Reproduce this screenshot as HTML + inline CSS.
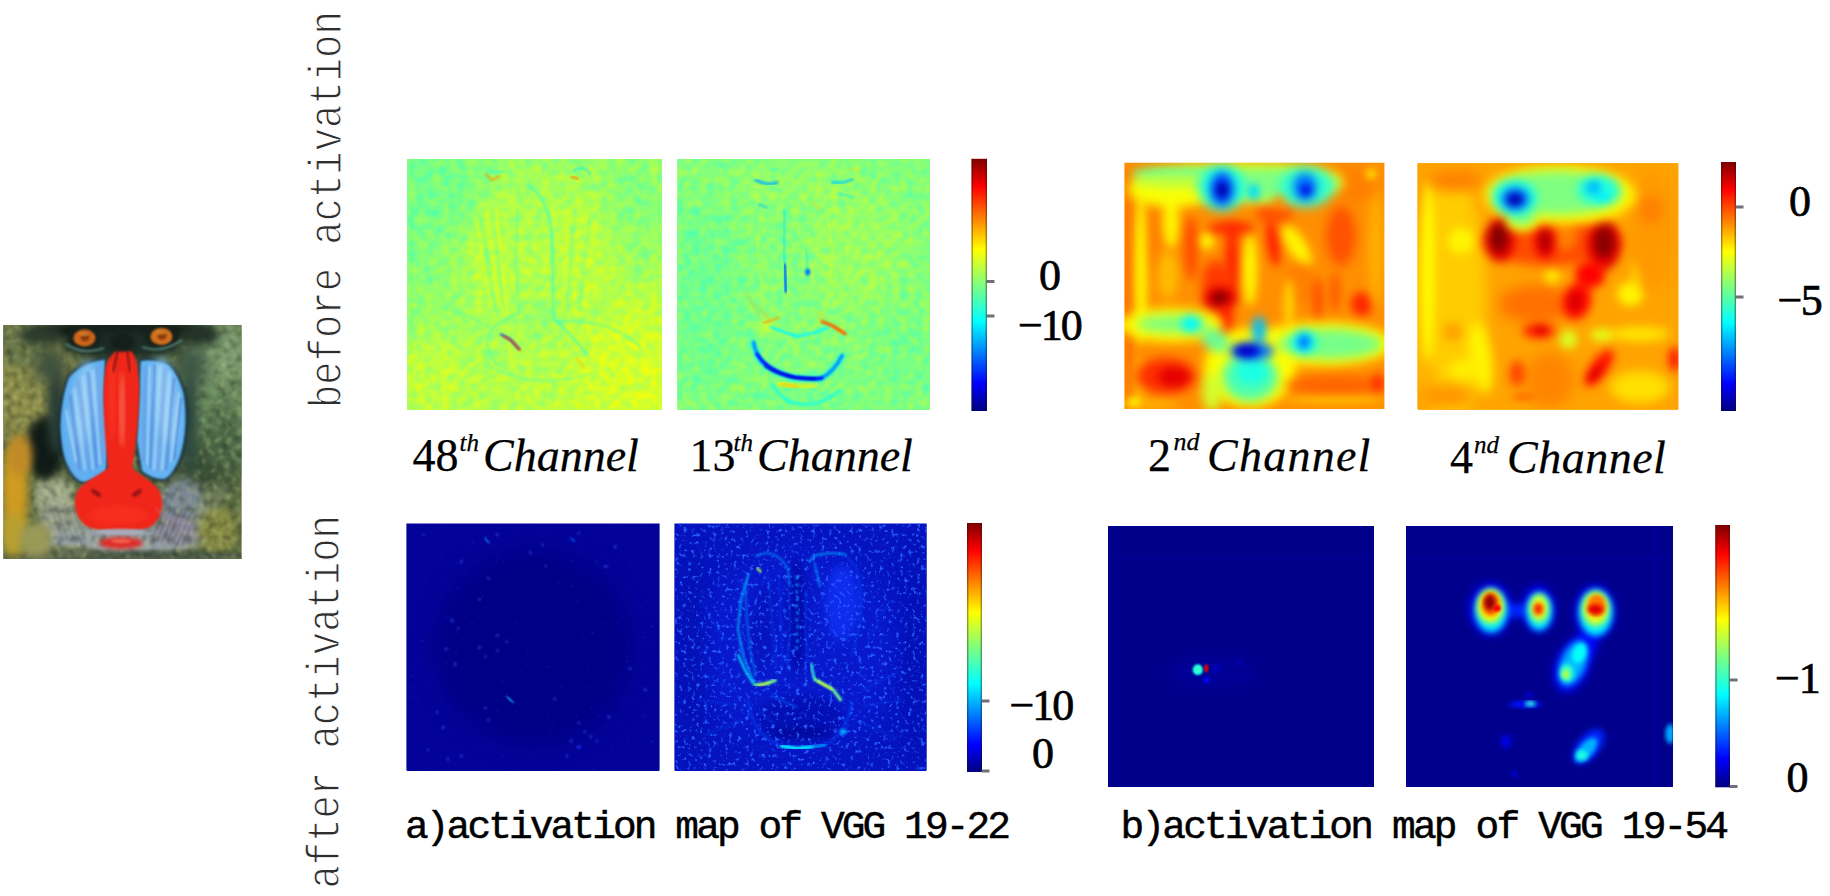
<!DOCTYPE html>
<html lang="en"><head><meta charset="utf-8"><title>Activation maps of VGG 19</title>
<style>
html,body{margin:0;padding:0;background:#fff;}
body{width:1830px;height:896px;overflow:hidden;position:relative;}
svg{position:absolute;left:0;top:0;display:block;}
.ser{font-family:"Liberation Serif",serif;fill:#000;}
.num{stroke:#000;stroke-width:0.7px;}
.chl{stroke:#000;stroke-width:0.25px;}
.it{font-style:italic;}
.mono{font-family:"Liberation Mono",monospace;fill:#2e2e2e;}
.cap{font-family:"Liberation Mono",monospace;fill:#000;}
</style></head><body>
<svg width="1830" height="896" viewBox="0 0 1830 896">
<defs>
<linearGradient id="jet" x1="0" y1="0" x2="0" y2="1">
<stop offset="0" stop-color="#7f0000"/><stop offset="0.11" stop-color="#ff0000"/>
<stop offset="0.36" stop-color="#ffff00"/><stop offset="0.5" stop-color="#7fff7f"/><stop offset="0.645" stop-color="#00ffff"/>
<stop offset="0.89" stop-color="#0000ff"/><stop offset="1" stop-color="#00007f"/>
</linearGradient>

<filter color-interpolation-filters="sRGB" id="gb3" x="-5%" y="-5%" width="110%" height="110%"><feGaussianBlur stdDeviation="3"/></filter>
<filter color-interpolation-filters="sRGB" id="gb2" x="-5%" y="-5%" width="110%" height="110%"><feGaussianBlur stdDeviation="2"/></filter>
<linearGradient id="g1" x1="0" y1="0" x2="1" y2="1"><stop offset="0" stop-color="#61ff9e"/><stop offset="0.45" stop-color="#a3ff5c"/><stop offset="1" stop-color="#e5ff1a"/></linearGradient>
<filter color-interpolation-filters="sRGB" id="tex1" x="0" y="0" width="100%" height="100%"><feTurbulence type="fractalNoise" baseFrequency="0.12" numOctaves="3" seed="4"/><feColorMatrix type="matrix" values="1.5 0 0 0 -0.1  0 0 0 0 1  -1.5 0 0 0 1.1  0 0 0 0 0.42"/><feGaussianBlur stdDeviation="0.8"/></filter>
<filter color-interpolation-filters="sRGB" id="tex2" x="0" y="0" width="100%" height="100%"><feTurbulence type="fractalNoise" baseFrequency="0.13" numOctaves="3" seed="9"/><feColorMatrix type="matrix" values="1.5 0 0 0 -0.18  0 0 0 0 1  -1.5 0 0 0 1.18  0 0 0 0 0.42"/><feGaussianBlur stdDeviation="0.8"/></filter>
<filter color-interpolation-filters="sRGB" id="spk5" x="0" y="0" width="100%" height="100%"><feTurbulence type="fractalNoise" baseFrequency="0.2" numOctaves="3" seed="11"/><feColorMatrix type="matrix" values="0 0 0 0 0.16  0 0 0 0 0.28  0 0 0 0 0.9  5 0 0 0 -3.65"/><feGaussianBlur stdDeviation="0.7"/></filter>
<filter color-interpolation-filters="sRGB" id="spk6" x="0" y="0" width="100%" height="100%"><feTurbulence type="fractalNoise" baseFrequency="0.24" numOctaves="3" seed="3"/><feColorMatrix type="matrix" values="0 0 0 0 0.16  0 0 0 0 0.38  0 0 0 0 1  5 0 0 0 -2.9"/><feGaussianBlur stdDeviation="0.7"/></filter>
<filter color-interpolation-filters="sRGB" id="b6" x="-50%" y="-50%" width="200%" height="200%"><feGaussianBlur stdDeviation="6"/></filter>
<filter color-interpolation-filters="sRGB" id="b3" x="-40%" y="-40%" width="180%" height="180%"><feGaussianBlur stdDeviation="3"/></filter>
<filter color-interpolation-filters="sRGB" id="furL" x="0" y="0" width="100%" height="100%"><feTurbulence type="fractalNoise" baseFrequency="0.16" numOctaves="2" seed="7" result="n"/><feColorMatrix in="n" type="matrix" values="0 0 0 0 0.78  0 0 0 0 0.82  0 0 0 0 0.55  2.6 0 0 0 -1.25"/><feGaussianBlur stdDeviation="0.9"/></filter>
<filter color-interpolation-filters="sRGB" id="furD" x="0" y="0" width="100%" height="100%"><feTurbulence type="fractalNoise" baseFrequency="0.14" numOctaves="2" seed="23" result="n"/><feColorMatrix in="n" type="matrix" values="0 0 0 0 0.08  0 0 0 0 0.12  0 0 0 0 0.08  0 2.6 0 0 -1.2"/><feGaussianBlur stdDeviation="0.9"/></filter>
<filter color-interpolation-filters="sRGB" id="b1" x="-20%" y="-20%" width="140%" height="140%"><feGaussianBlur stdDeviation="1"/></filter>
<filter color-interpolation-filters="sRGB" id="b2" x="-20%" y="-20%" width="140%" height="140%"><feGaussianBlur stdDeviation="2"/></filter>
<filter color-interpolation-filters="sRGB" id="b4" x="-30%" y="-30%" width="160%" height="160%"><feGaussianBlur stdDeviation="4"/></filter>
<filter color-interpolation-filters="sRGB" id="b8" x="-50%" y="-50%" width="200%" height="200%"><feGaussianBlur stdDeviation="8"/></filter>
<filter color-interpolation-filters="sRGB" id="b12" x="-50%" y="-50%" width="200%" height="200%"><feGaussianBlur stdDeviation="12"/></filter>
</defs>
<clipPath id="cpB"><rect x="3.3" y="325" width="238.3" height="234"/></clipPath>
<g clip-path="url(#cpB)">
<rect x="0" y="320" width="246" height="244" fill="#5e6e42"/>
<ellipse cx="30" cy="385" rx="44" ry="62" fill="#8e8e4a" filter="url(#b8)"/>
<ellipse cx="40" cy="352" rx="32" ry="22" fill="#84884a" filter="url(#b8)"/>
<ellipse cx="20" cy="345" rx="25" ry="22" fill="#6c7a4a" filter="url(#b4)"/>
<ellipse cx="217" cy="400" rx="32" ry="85" fill="#64865c" filter="url(#b8)"/>
<ellipse cx="222" cy="355" rx="26" ry="32" fill="#7c9c70" filter="url(#b8)"/>
<ellipse cx="205" cy="470" rx="30" ry="30" fill="#3c5238" filter="url(#b8)"/>
<ellipse cx="225" cy="440" rx="18" ry="30" fill="#4c6a48" filter="url(#b8)"/>
<ellipse cx="54" cy="496" rx="20" ry="20" fill="#a6ae90" filter="url(#b4)"/>
<ellipse cx="62" cy="520" rx="24" ry="18" fill="#9aa090" filter="url(#b4)"/>
<ellipse cx="120" cy="540" rx="80" ry="16" fill="#98a2a8" filter="url(#b4)"/>
<ellipse cx="182" cy="505" rx="24" ry="26" fill="#7c8a98" filter="url(#b4)"/>
<ellipse cx="205" cy="520" rx="14" ry="22" fill="#8a988a" filter="url(#b4)"/>
<ellipse cx="176" cy="530" rx="22" ry="16" fill="#8e8ea0" filter="url(#b4)"/>
<ellipse cx="218" cy="530" rx="20" ry="24" fill="#8a8c44" filter="url(#b4)"/>
<ellipse cx="215" cy="495" rx="14" ry="12" fill="#6c7a58" filter="url(#b4)"/>
<ellipse cx="122" cy="556" rx="125" ry="5" fill="#4a5848" filter="url(#b2)"/>
<ellipse cx="60" cy="552" rx="40" ry="6" fill="#6a7458" filter="url(#b2)"/>
<rect x="3" y="325" width="239" height="234" filter="url(#furL)" opacity="0.5"/>
<rect x="3" y="325" width="239" height="234" filter="url(#furD)" opacity="0.42"/>
<ellipse cx="122" cy="331" rx="90" ry="11" fill="#121c18" filter="url(#b4)"/>
<ellipse cx="122" cy="345" rx="62" ry="14" fill="#1c2c26" filter="url(#b4)"/>
<ellipse cx="45" cy="448" rx="19" ry="32" fill="#101a16" filter="url(#b4)"/>
<ellipse cx="56" cy="410" rx="9" ry="45" fill="#2a3e36" filter="url(#b4)"/>
<ellipse cx="50" cy="365" rx="15" ry="20" fill="#3c4e3e" filter="url(#b8)"/>
<ellipse cx="190" cy="420" rx="8" ry="55" fill="#2e4a40" filter="url(#b4)"/>
<ellipse cx="192" cy="365" rx="15" ry="20" fill="#3c5646" filter="url(#b8)"/>
<ellipse cx="200" cy="335" rx="20" ry="10" fill="#243428" filter="url(#b4)"/>
<ellipse cx="40" cy="335" rx="22" ry="9" fill="#2a3a2c" filter="url(#b4)"/>
<ellipse cx="15" cy="490" rx="13" ry="48" fill="#cf9c20" filter="url(#b4)"/>
<ellipse cx="20" cy="455" rx="12" ry="20" fill="#c08a28" filter="url(#b4)"/>
<ellipse cx="14" cy="535" rx="14" ry="22" fill="#b8a030" filter="url(#b4)"/>
<ellipse cx="36" cy="540" rx="16" ry="18" fill="#9a9a58" filter="url(#b4)"/>
<path d="M105,359.5 C92,361 78,367 69,377.5 C63.5,391 61,409 60.4,427 C61,441 63,456 67,464 C71,473 77,481 83,482 C92,482 100,476 106,471 L108,441 L104.5,400 Z" fill="#0e2638" filter="url(#b2)" stroke="#0e2638" stroke-width="4"/>
<path d="M140.5,361 C147,359.5 158,360 169,365.5 C176,372 181,384 183.5,393 C185.5,405 186,418 185,430 C184,443 181,456 177,464 C172,474 167,479 163,479 C154,479 147,475 142,471 L137,441 L139,400 Z" fill="#0e2638" filter="url(#b2)" stroke="#0e2638" stroke-width="4"/>
<path d="M105,359.5 C92,361 78,367 69,377.5 C63.5,391 61,409 60.4,427 C61,441 63,456 67,464 C71,473 77,481 83,482 C92,482 100,476 106,471 L108,441 L104.5,400 Z" fill="#5eaef0" filter="url(#b1)"/>
<path d="M140.5,361 C147,359.5 158,360 169,365.5 C176,372 181,384 183.5,393 C185.5,405 186,418 185,430 C184,443 181,456 177,464 C172,474 167,479 163,479 C154,479 147,475 142,471 L137,441 L139,400 Z" fill="#62b2f2" filter="url(#b1)"/>
<ellipse cx="84" cy="405" rx="12" ry="45" fill="#8cc8f4" filter="url(#b4)" transform="rotate(6 84 405)" opacity="0.9"/>
<ellipse cx="165" cy="402" rx="12" ry="45" fill="#90ccf6" filter="url(#b4)" transform="rotate(-6 165 402)" opacity="0.9"/>
<ellipse cx="80" cy="455" rx="8" ry="20" fill="#6fb2ee" filter="url(#b4)" opacity="0.7"/>
<ellipse cx="160" cy="455" rx="8" ry="20" fill="#72b6f0" filter="url(#b4)" opacity="0.7"/>
<line x1="70" y1="395" x2="80" y2="470" stroke="#5a6cc8" stroke-width="1.6" filter="url(#b1)" opacity="0.75"/>
<line x1="78" y1="380" x2="90" y2="472" stroke="#7a86d0" stroke-width="1.4" filter="url(#b1)" opacity="0.75"/>
<line x1="88" y1="372" x2="97" y2="468" stroke="#5a70c8" stroke-width="1.6" filter="url(#b1)" opacity="0.75"/>
<line x1="97" y1="366" x2="103" y2="462" stroke="#8a90d4" stroke-width="1.4" filter="url(#b1)" opacity="0.75"/>
<line x1="146" y1="366" x2="143" y2="462" stroke="#7a86d0" stroke-width="1.5" filter="url(#b1)" opacity="0.75"/>
<line x1="155" y1="364" x2="150" y2="468" stroke="#5a70c8" stroke-width="1.6" filter="url(#b1)" opacity="0.75"/>
<line x1="165" y1="368" x2="158" y2="472" stroke="#8a8ad4" stroke-width="1.4" filter="url(#b1)" opacity="0.75"/>
<line x1="174" y1="378" x2="166" y2="470" stroke="#5a6cc8" stroke-width="1.6" filter="url(#b1)" opacity="0.75"/>
<line x1="181" y1="398" x2="174" y2="460" stroke="#5068c0" stroke-width="1.4" filter="url(#b1)" opacity="0.75"/>
<line x1="74" y1="388" x2="85" y2="470" stroke="#c0e2fa" stroke-width="1.8" filter="url(#b1)" opacity="0.75"/>
<line x1="83" y1="376" x2="93" y2="470" stroke="#c0e2fa" stroke-width="1.8" filter="url(#b1)" opacity="0.75"/>
<line x1="93" y1="370" x2="100" y2="465" stroke="#c0e2fa" stroke-width="1.8" filter="url(#b1)" opacity="0.75"/>
<line x1="66" y1="410" x2="76" y2="462" stroke="#c0e2fa" stroke-width="1.8" filter="url(#b1)" opacity="0.75"/>
<line x1="150" y1="366" x2="147" y2="465" stroke="#c0e2fa" stroke-width="1.8" filter="url(#b1)" opacity="0.75"/>
<line x1="160" y1="366" x2="154" y2="470" stroke="#c0e2fa" stroke-width="1.8" filter="url(#b1)" opacity="0.75"/>
<line x1="170" y1="372" x2="162" y2="470" stroke="#c0e2fa" stroke-width="1.8" filter="url(#b1)" opacity="0.75"/>
<line x1="179" y1="392" x2="171" y2="462" stroke="#c0e2fa" stroke-width="1.8" filter="url(#b1)" opacity="0.75"/>
<path d="M116,351 L131,351 C135,356 137.5,362 138,372 C140,385 139.5,400 138,420 C136.5,440 134,455 132.5,468 C140,476 155,482 160,492 C165,504 162,520 150,527 C138,532 100,532 88,527 C76,520 72,504 77,492 C82,482 98,476 108,468 C107,455 105,440 104,420 C103,400 103,385 105,372 C106,362 110,356 116,351 Z" fill="#f0261a" filter="url(#b1)"/>
<ellipse cx="122" cy="410" rx="2.5" ry="38" fill="#ff7a60" filter="url(#b2)" opacity="0.7"/>
<ellipse cx="112" cy="400" rx="3" ry="40" fill="#ff3a24" filter="url(#b2)" opacity="0.6"/>
<ellipse cx="118" cy="515" rx="30" ry="10" fill="#fa3020" filter="url(#b2)" opacity="0.7"/>
<line x1="118" y1="350" x2="113" y2="372" stroke="#5a1410" stroke-width="2" filter="url(#b1)" opacity="0.8"/>
<line x1="127" y1="350" x2="130" y2="372" stroke="#5a1410" stroke-width="2" filter="url(#b1)" opacity="0.7"/>
<ellipse cx="96" cy="493" rx="6" ry="2.6" fill="#8e1212" filter="url(#b1)" transform="rotate(35 96 493)" opacity="0.9"/>
<ellipse cx="137" cy="493" rx="6" ry="2.6" fill="#8e1212" filter="url(#b1)" transform="rotate(-35 137 493)" opacity="0.9"/>
<ellipse cx="120" cy="532" rx="24" ry="3.2" fill="#a8aec0" filter="url(#b1)" opacity="0.9"/>
<ellipse cx="121" cy="543" rx="22" ry="6" fill="#e02c28" filter="url(#b2)"/>
<ellipse cx="121" cy="541" rx="10" ry="2.5" fill="#f26a50" filter="url(#b1)" opacity="0.8"/>
<line x1="166" y1="505.0" x2="152" y2="540" stroke="#3c3c4c" stroke-width="1.6" filter="url(#b1)" opacity="0.4"/>
<line x1="156" y1="508" x2="174" y2="530" stroke="#b49ab0" stroke-width="1.3" filter="url(#b1)" opacity="0.4"/>
<line x1="171" y1="506.5" x2="157" y2="541" stroke="#3c3c4c" stroke-width="1.6" filter="url(#b1)" opacity="0.4"/>
<line x1="161" y1="510" x2="179" y2="532" stroke="#b49ab0" stroke-width="1.3" filter="url(#b1)" opacity="0.4"/>
<line x1="176" y1="508.0" x2="162" y2="542" stroke="#3c3c4c" stroke-width="1.6" filter="url(#b1)" opacity="0.4"/>
<line x1="166" y1="512" x2="184" y2="534" stroke="#b49ab0" stroke-width="1.3" filter="url(#b1)" opacity="0.4"/>
<line x1="181" y1="509.5" x2="167" y2="543" stroke="#3c3c4c" stroke-width="1.6" filter="url(#b1)" opacity="0.4"/>
<line x1="171" y1="514" x2="189" y2="536" stroke="#b49ab0" stroke-width="1.3" filter="url(#b1)" opacity="0.4"/>
<line x1="186" y1="511.0" x2="172" y2="544" stroke="#3c3c4c" stroke-width="1.6" filter="url(#b1)" opacity="0.4"/>
<line x1="176" y1="516" x2="194" y2="538" stroke="#b49ab0" stroke-width="1.3" filter="url(#b1)" opacity="0.4"/>
<line x1="191" y1="512.5" x2="177" y2="545" stroke="#3c3c4c" stroke-width="1.6" filter="url(#b1)" opacity="0.4"/>
<line x1="181" y1="518" x2="199" y2="540" stroke="#b49ab0" stroke-width="1.3" filter="url(#b1)" opacity="0.4"/>
<line x1="196" y1="514.0" x2="182" y2="546" stroke="#3c3c4c" stroke-width="1.6" filter="url(#b1)" opacity="0.4"/>
<line x1="186" y1="520" x2="204" y2="542" stroke="#b49ab0" stroke-width="1.3" filter="url(#b1)" opacity="0.4"/>
<line x1="50" y1="505" x2="62" y2="538" stroke="#56625c" stroke-width="1.5" filter="url(#b1)" opacity="0.35"/>
<line x1="56" y1="507" x2="68" y2="539" stroke="#56625c" stroke-width="1.5" filter="url(#b1)" opacity="0.35"/>
<line x1="62" y1="509" x2="74" y2="540" stroke="#56625c" stroke-width="1.5" filter="url(#b1)" opacity="0.35"/>
<line x1="68" y1="511" x2="80" y2="541" stroke="#56625c" stroke-width="1.5" filter="url(#b1)" opacity="0.35"/>
<line x1="74" y1="513" x2="86" y2="542" stroke="#56625c" stroke-width="1.5" filter="url(#b1)" opacity="0.35"/>
<ellipse cx="84.5" cy="338.5" rx="17" ry="11" fill="#15211c" filter="url(#b2)"/>
<ellipse cx="161.5" cy="337" rx="17" ry="11" fill="#15211c" filter="url(#b2)"/>
<ellipse cx="84.5" cy="338" rx="11" ry="8.5" fill="#cc661a" filter="url(#b1)"/>
<ellipse cx="161.5" cy="336.5" rx="11" ry="8.5" fill="#d06e1c" filter="url(#b1)"/>
<ellipse cx="85" cy="337" rx="4.5" ry="4.5" fill="#8a3c0c" filter="url(#b1)"/>
<ellipse cx="162" cy="335.5" rx="4.5" ry="4.5" fill="#8a3c0c" filter="url(#b1)"/>
<ellipse cx="84" cy="334" rx="5" ry="2" fill="#e8903a" filter="url(#b1)" opacity="0.7"/>
<ellipse cx="161" cy="332.5" rx="5" ry="2" fill="#e8963c" filter="url(#b1)" opacity="0.7"/>
<path d="M66,344 Q84,356 104,348" stroke="#5a8a80" stroke-width="2.2" fill="none" filter="url(#b1)" opacity="0.8"/>
<path d="M142,347 Q162,354 182,340" stroke="#5a8a80" stroke-width="2.2" fill="none" filter="url(#b1)" opacity="0.8"/>
<ellipse cx="122" cy="342" rx="12" ry="9" fill="#141e1a" filter="url(#b2)"/>
</g>

<rect x="407.5" y="159" width="254" height="251" fill="#8eea70"/>
<rect x="677.5" y="159" width="252.3" height="251" fill="#7eea88"/>
<rect x="1418" y="163" width="260" height="247" fill="#ffae20"/>
<rect x="407" y="524" width="252" height="247" fill="#00008c"/>
<rect x="675" y="524" width="251" height="247" fill="#0010b8"/>
<rect x="1108" y="526" width="266" height="261" fill="#00008a"/>
<rect x="1406" y="526" width="267" height="261" fill="#00008a"/>
<clipPath id="cph1"><rect x="407.5" y="159" width="254.1" height="250.8"/></clipPath>
<g clip-path="url(#cph1)">
<rect x="387.5" y="139" width="294.1" height="290.8" fill="#94ff6b"/>
<rect x="405" y="157" width="260" height="256" fill="url(#g1)"/>
<ellipse cx="436.2" cy="195.2" rx="45.2" ry="42.2" fill="#57ffa8" filter="url(#b12)" opacity="0.7"/>
<ellipse cx="635.0" cy="192.2" rx="33.1" ry="36.2" fill="#66ff99" filter="url(#b12)" opacity="0.6"/>
<ellipse cx="629.0" cy="367.0" rx="48.2" ry="54.2" fill="#f0ff0f" filter="url(#b12)" opacity="0.8"/>
<ellipse cx="433.1" cy="379.0" rx="36.2" ry="42.2" fill="#dbff24" filter="url(#b12)" opacity="0.75"/>
<ellipse cx="499.4" cy="255.5" rx="30.1" ry="54.2" fill="#d1ff2e" filter="url(#b8)" transform="rotate(8 499.4 255.5)" opacity="0.7"/>
<ellipse cx="535.6" cy="240.4" rx="69.3" ry="78.3" fill="#c2ff3d" filter="url(#b12)" opacity="0.5"/>
<ellipse cx="580.8" cy="249.4" rx="28.6" ry="51.2" fill="#ccff33" filter="url(#b8)" transform="rotate(-8 580.8 249.4)" opacity="0.65"/>
<ellipse cx="644.1" cy="225.3" rx="21.1" ry="60.3" fill="#66ff99" filter="url(#b12)" opacity="0.6"/>
<ellipse cx="418.1" cy="240.4" rx="18.1" ry="66.3" fill="#66ff99" filter="url(#b12)" opacity="0.5"/>
<ellipse cx="541.6" cy="318.8" rx="18.1" ry="18.1" fill="#6bff94" filter="url(#b8)" opacity="0.5"/>
<rect x="405" y="157" width="260" height="256" filter="url(#tex1)" opacity="0.8"/>
<path d="M476.8,222.3 L490.4,306.7" stroke="#faff05" stroke-width="1.5" fill="none" stroke-linecap="round" stroke-linejoin="round" filter="url(#b1)" opacity="0.55"/>
<path d="M485.9,213.3 L499.4,306.7" stroke="#faff05" stroke-width="1.5" fill="none" stroke-linecap="round" stroke-linejoin="round" filter="url(#b1)" opacity="0.55"/>
<path d="M496.4,207.3 L507.0,312.7" stroke="#faff05" stroke-width="1.5" fill="none" stroke-linecap="round" stroke-linejoin="round" filter="url(#b1)" opacity="0.55"/>
<path d="M568.8,210.3 L562.7,306.7" stroke="#faff05" stroke-width="1.5" fill="none" stroke-linecap="round" stroke-linejoin="round" filter="url(#b1)" opacity="0.55"/>
<path d="M580.8,207.3 L573.3,312.7" stroke="#faff05" stroke-width="1.5" fill="none" stroke-linecap="round" stroke-linejoin="round" filter="url(#b1)" opacity="0.55"/>
<path d="M595.9,219.3 L585.3,306.7" stroke="#faff05" stroke-width="1.5" fill="none" stroke-linecap="round" stroke-linejoin="round" filter="url(#b1)" opacity="0.55"/>
<path d="M481.4,219.3 L494.9,306.7" stroke="#2effd1" stroke-width="1.4" fill="none" stroke-linecap="round" stroke-linejoin="round" filter="url(#b1)" opacity="0.5"/>
<path d="M491.9,210.3 L504.0,309.7" stroke="#2effd1" stroke-width="1.4" fill="none" stroke-linecap="round" stroke-linejoin="round" filter="url(#b1)" opacity="0.5"/>
<path d="M574.8,208.8 L567.2,309.7" stroke="#2effd1" stroke-width="1.4" fill="none" stroke-linecap="round" stroke-linejoin="round" filter="url(#b1)" opacity="0.5"/>
<path d="M589.8,213.3 L579.3,309.7" stroke="#2effd1" stroke-width="1.4" fill="none" stroke-linecap="round" stroke-linejoin="round" filter="url(#b1)" opacity="0.5"/>
<path d="M529.6,186.2 Q550.7,201.2 552.2,240.4 L553.7,318.8 Q568.8,330.8 586.8,354.9" stroke="#1affe5" stroke-width="1.8" fill="none" stroke-linecap="round" filter="url(#b1)" opacity="0.7"/>
<path d="M517.5,210.3 Q514.5,270.5 519.0,312.7 Q502.5,318.8 490.4,330.8 Q481.4,348.9 499.4,367.0" stroke="#2effd1" stroke-width="1.6" fill="none" stroke-linecap="round" filter="url(#b1)" opacity="0.6"/>
<path d="M556.7,321.8 Q592.9,318.8 617.0,330.8 Q638.1,342.9 641.1,348.9" stroke="#2effd1" stroke-width="1.6" fill="none" stroke-linecap="round" filter="url(#b1)" opacity="0.6"/>
<path d="M490.4,367.0 Q538.6,391.1 592.9,373.0" stroke="#38ffc7" stroke-width="1.5" fill="none" stroke-linecap="round" filter="url(#b1)" opacity="0.5"/>
<path d="M439.2,306.7 Q466.3,312.7 490.4,327.8" stroke="#38ffc7" stroke-width="1.4" fill="none" stroke-linecap="round" filter="url(#b1)" opacity="0.45"/>
<path d="M485.9,174.1 L491.9,180.1 L499.4,176.5" stroke="#ff9e00" stroke-width="2.2" fill="none" stroke-linecap="round" stroke-linejoin="round" filter="url(#b1)" opacity="0.8"/>
<path d="M490.4,173.5 L504.0,171.1" stroke="#1affe5" stroke-width="2" fill="none" stroke-linecap="round" stroke-linejoin="round" filter="url(#b1)" opacity="0.7"/>
<path d="M571.8,176.5 L577.8,178.9" stroke="#ff8a00" stroke-width="2.6" fill="none" stroke-linecap="round" stroke-linejoin="round" filter="url(#b1)" opacity="0.85"/>
<path d="M573.3,171.1 Q583.8,163.6 589.8,174.1" stroke="#00f0ff" stroke-width="2" fill="none" stroke-linecap="round" filter="url(#b1)" opacity="0.7"/>
<path d="M500.9,334.4 L510.0,339.2 L519.0,348.9" stroke="#004dff" stroke-width="2.4" fill="none" stroke-linecap="round" stroke-linejoin="round" filter="url(#b1)" opacity="0.8"/>
<path d="M504.0,336.2 L512.1,341.1 L519.9,350.1" stroke="#ff3800" stroke-width="2" fill="none" stroke-linecap="round" stroke-linejoin="round" filter="url(#b1)" opacity="0.85"/>
<path d="M576.3,357.9 L583.8,367.0" stroke="#ff9e00" stroke-width="1.6" fill="none" stroke-linecap="round" stroke-linejoin="round" filter="url(#b1)" opacity="0.5"/>
</g>
<clipPath id="cph2"><rect x="677.5" y="159" width="252.3" height="250.8"/></clipPath>
<g clip-path="url(#cph2)">
<rect x="657.5" y="139" width="292.3" height="290.8" fill="#80ff80"/>
<ellipse cx="703.1" cy="300.7" rx="39.2" ry="99.4" fill="#57ffa8" filter="url(#b12)" opacity="0.7"/>
<ellipse cx="856.8" cy="249.4" rx="51.2" ry="60.3" fill="#b3ff4c" filter="url(#b12)" opacity="0.6"/>
<ellipse cx="796.6" cy="186.2" rx="60.3" ry="18.1" fill="#b8ff47" filter="url(#b8)" opacity="0.45"/>
<ellipse cx="905.0" cy="360.9" rx="33.1" ry="48.2" fill="#61ff9e" filter="url(#b12)" opacity="0.6"/>
<ellipse cx="799.6" cy="400.1" rx="60.3" ry="12.1" fill="#57ffa8" filter="url(#b8)" opacity="0.6"/>
<rect x="675" y="157" width="258" height="256" filter="url(#tex2)" opacity="0.8"/>
<path d="M784.5,210.3 L783.9,249.4 L786.0,291.6" stroke="#00f0ff" stroke-width="2" fill="none" stroke-linecap="round" stroke-linejoin="round" filter="url(#b1)" opacity="0.8"/>
<path d="M784.5,264.5 L786.0,291.6" stroke="#004dff" stroke-width="2.6" fill="none" stroke-linecap="round" stroke-linejoin="round" filter="url(#b1)" opacity="0.9"/>
<path d="M806.2,249.4 L808.0,276.6" stroke="#00f0ff" stroke-width="1.8" fill="none" stroke-linecap="round" stroke-linejoin="round" filter="url(#b1)" opacity="0.6"/>
<ellipse cx="807.7" cy="272.0" rx="2.7" ry="3.6" fill="#0080ff" filter="url(#b1)"/>
<path d="M760.4,210.3 L757.4,249.4 L763.4,306.7" stroke="#faff05" stroke-width="1.4" fill="none" stroke-linecap="round" stroke-linejoin="round" filter="url(#b1)" opacity="0.5"/>
<path d="M826.7,210.3 L832.7,249.4 L826.7,306.7" stroke="#faff05" stroke-width="1.4" fill="none" stroke-linecap="round" stroke-linejoin="round" filter="url(#b1)" opacity="0.5"/>
<path d="M755.9,180.1 Q766.4,186.2 777.0,182.5" stroke="#00b2ff" stroke-width="3" fill="none" stroke-linecap="round" filter="url(#b1)" opacity="0.85"/>
<path d="M832.7,182.5 Q843.3,183.8 852.3,179.5" stroke="#00d1ff" stroke-width="3" fill="none" stroke-linecap="round" filter="url(#b1)" opacity="0.8"/>
<path d="M759.2,204.2 L767.0,207.9" stroke="#00d1ff" stroke-width="2.4" fill="none" stroke-linecap="round" stroke-linejoin="round" filter="url(#b1)" opacity="0.7"/>
<path d="M838.8,193.7 L854.4,197.6" stroke="#00f0ff" stroke-width="2" fill="none" stroke-linecap="round" stroke-linejoin="round" filter="url(#b1)" opacity="0.7"/>
<path d="M769.4,171.1 L778.5,168.7" stroke="#05fffa" stroke-width="1.8" fill="none" stroke-linecap="round" stroke-linejoin="round" filter="url(#b1)" opacity="0.6"/>
<path d="M847.8,168.1 L859.8,171.1" stroke="#ffdb00" stroke-width="1.8" fill="none" stroke-linecap="round" stroke-linejoin="round" filter="url(#b1)" opacity="0.6"/>
<path d="M811.6,201.2 L820.7,210.3" stroke="#ffc700" stroke-width="1.6" fill="none" stroke-linecap="round" stroke-linejoin="round" filter="url(#b1)" opacity="0.5"/>
<ellipse cx="767.0" cy="327.0" rx="9.0" ry="7.2" fill="#e5ff1a" filter="url(#b3)" opacity="0.6"/>
<path d="M763.9,322.8 L771.0,320.5 L778.4,317.7" stroke="#ff9e00" stroke-width="2.4" fill="none" stroke-linecap="round" stroke-linejoin="round" filter="url(#b1)" opacity="0.75"/>
<path d="M821.9,321.4 L833.0,326.0 L845.1,333.7" stroke="#ff6100" stroke-width="3.4" fill="none" stroke-linecap="round" stroke-linejoin="round" filter="url(#b1)" opacity="0.95"/>
<path d="M818.0,312.0 L824.0,320.0" stroke="#ffdb00" stroke-width="3" fill="none" stroke-linecap="round" stroke-linejoin="round" filter="url(#b2)" opacity="0.7"/>
<path d="M745.3,291.6 L760.4,318.8" stroke="#ffb300" stroke-width="1.2" fill="none" stroke-linecap="round" stroke-linejoin="round" filter="url(#b1)" opacity="0.45"/>
<path d="M751.4,300.7 L766.4,317.2" stroke="#ffb300" stroke-width="1.2" fill="none" stroke-linecap="round" stroke-linejoin="round" filter="url(#b1)" opacity="0.45"/>
<path d="M760.4,306.7 L769.4,318.8" stroke="#ffb300" stroke-width="1.2" fill="none" stroke-linecap="round" stroke-linejoin="round" filter="url(#b1)" opacity="0.45"/>
<path d="M771.1,327.2 L785.0,332.5 L798.7,336.6 L813.0,333.0 L827.7,327.9" stroke="#00faff" stroke-width="2.6" fill="none" stroke-linecap="round" stroke-linejoin="round" filter="url(#b1)" opacity="0.9"/>
<path d="M753.7,342.4 Q755.0,352.0 762.0,362.0 Q772.0,373.0 794.3,377.2 Q810.0,379.5 820.5,378.7 Q834.0,372.0 842.2,355.5" stroke="#1affe5" stroke-width="6.5" fill="none" stroke-linecap="round" filter="url(#b2)" opacity="0.85"/>
<path d="M753.7,342.4 Q755.0,352.0 762.0,362.0 Q772.0,373.0 794.3,377.2 Q810.0,379.5 820.5,378.7 Q834.0,372.0 842.2,355.5" stroke="#0094ff" stroke-width="3.6" fill="none" stroke-linecap="round" filter="url(#b1)"/>
<path d="M757.0,354.0 Q768.0,371.0 794.3,377.2 Q810.0,379.5 822.0,378.0" stroke="#000fff" stroke-width="3" fill="none" stroke-linecap="round" filter="url(#b1)"/>
<path d="M765.0,366.0 Q778.0,375.0 796.0,377.6 L815.0,379.0" stroke="#0000bd" stroke-width="1.8" fill="none" stroke-linecap="round" filter="url(#b1)" opacity="0.9"/>
<path d="M778.4,383.0 L797.0,386.5 L816.1,387.0" stroke="#fff000" stroke-width="4.5" fill="none" stroke-linecap="round" stroke-linejoin="round" filter="url(#b2)" opacity="0.9"/>
<path d="M782.0,384.0 L797.0,387.0" stroke="#ffbd00" stroke-width="2.5" fill="none" stroke-linecap="round" stroke-linejoin="round" filter="url(#b1)" opacity="0.7"/>
<path d="M772.6,384.5 Q780.0,397.0 790.0,401.9 Q803.0,405.5 816.1,403.4 Q830.0,399.0 839.3,390.3" stroke="#0ffff0" stroke-width="3" fill="none" stroke-linecap="round" filter="url(#b1)" opacity="0.8"/>
</g>
<clipPath id="cph3"><rect x="1124.4" y="162.8" width="260" height="246.2"/></clipPath>
<g clip-path="url(#cph3)">
<g filter="url(#gb3)">
<rect x="1104.4" y="142.8" width="300" height="286.2" fill="#ff8f00"/>
<ellipse cx="1128.0" cy="290.0" rx="4.0" ry="125.0" fill="#ff6b00" filter="url(#b2)"/>
<ellipse cx="1141.0" cy="270.0" rx="6.0" ry="75.0" fill="#fffa00" filter="url(#b3)"/>
<ellipse cx="1141.0" cy="380.0" rx="8.0" ry="22.0" fill="#ffb300" filter="url(#b3)"/>
<ellipse cx="1155.0" cy="235.0" rx="6.0" ry="40.0" fill="#ff8000" filter="url(#b3)"/>
<ellipse cx="1171.0" cy="222.0" rx="8.0" ry="26.0" fill="#fff500" filter="url(#b3)"/>
<ellipse cx="1168.0" cy="275.0" rx="10.0" ry="25.0" fill="#ffbd00" filter="url(#b4)"/>
<ellipse cx="1191.0" cy="248.0" rx="7.0" ry="32.0" fill="#ff4c00" filter="url(#b3)"/>
<ellipse cx="1207.0" cy="241.0" rx="7.0" ry="8.0" fill="#ffff00" filter="url(#b3)"/>
<ellipse cx="1231.0" cy="228.0" rx="23.0" ry="7.0" fill="#ff2e00" filter="url(#b3)"/>
<ellipse cx="1232.0" cy="262.0" rx="7.0" ry="40.0" fill="#ff2400" filter="url(#b3)"/>
<ellipse cx="1216.0" cy="282.0" rx="14.0" ry="22.0" fill="#ff3800" filter="url(#b4)"/>
<ellipse cx="1250.0" cy="270.0" rx="7.0" ry="36.0" fill="#fffa00" filter="url(#b3)"/>
<ellipse cx="1273.0" cy="243.0" rx="6.0" ry="24.0" fill="#ff1a00" filter="url(#b3)" transform="rotate(-8 1273.0 243.0)"/>
<ellipse cx="1274.0" cy="214.0" rx="18.0" ry="10.0" fill="#ff4c00" filter="url(#b4)"/>
<ellipse cx="1279.0" cy="204.0" rx="6.0" ry="6.0" fill="#ff7500" filter="url(#b3)"/>
<ellipse cx="1297.0" cy="246.0" rx="9.0" ry="24.0" fill="#fff500" filter="url(#b3)" transform="rotate(-32 1297.0 246.0)"/>
<ellipse cx="1300.0" cy="285.0" rx="16.0" ry="22.0" fill="#ff8000" filter="url(#b4)"/>
<ellipse cx="1341.0" cy="236.0" rx="15.0" ry="30.0" fill="#ff5200" filter="url(#b4)"/>
<ellipse cx="1318.0" cy="300.0" rx="5.0" ry="22.0" fill="#ff4c00" filter="url(#b3)"/>
<ellipse cx="1335.0" cy="292.0" rx="5.0" ry="20.0" fill="#ff5700" filter="url(#b3)"/>
<ellipse cx="1362.0" cy="304.0" rx="11.0" ry="12.0" fill="#ff2400" filter="url(#b3)"/>
<ellipse cx="1376.0" cy="250.0" rx="7.0" ry="60.0" fill="#ffb300" filter="url(#b4)"/>
<ellipse cx="1355.0" cy="185.0" rx="20.0" ry="18.0" fill="#ff8000" filter="url(#b4)"/>
<ellipse cx="1371.0" cy="174.0" rx="5.0" ry="5.0" fill="#fff000" filter="url(#b2)"/>
<ellipse cx="1289.0" cy="303.0" rx="5.0" ry="24.0" fill="#ffdb00" filter="url(#b3)"/>
<ellipse cx="1220.0" cy="299.0" rx="17.0" ry="13.0" fill="#e50000" filter="url(#b3)"/>
<ellipse cx="1220.0" cy="298.0" rx="8.0" ry="7.0" fill="#8a0000" filter="url(#b2)"/>
<ellipse cx="1225.0" cy="320.0" rx="8.0" ry="16.0" fill="#ff1a00" filter="url(#b3)"/>
<ellipse cx="1240.0" cy="182.0" rx="104.0" ry="20.0" fill="#ffff00" filter="url(#b4)"/>
<ellipse cx="1172.0" cy="190.0" rx="44.0" ry="17.0" fill="#faff05" filter="url(#b4)"/>
<ellipse cx="1185.0" cy="173.0" rx="54.0" ry="6.0" fill="#57ffa8" filter="url(#b3)"/>
<ellipse cx="1180.0" cy="181.0" rx="48.0" ry="7.0" fill="#bdff42" filter="url(#b3)"/>
<ellipse cx="1268.0" cy="184.0" rx="72.0" ry="17.0" fill="#80ff80" filter="url(#b4)"/>
<ellipse cx="1222.0" cy="188.0" rx="23.0" ry="23.0" fill="#1affe5" filter="url(#b4)"/>
<ellipse cx="1306.0" cy="187.0" rx="27.0" ry="20.0" fill="#2effd1" filter="url(#b4)"/>
<ellipse cx="1222.0" cy="189.0" rx="12.0" ry="17.0" fill="#004dff" filter="url(#b3)"/>
<ellipse cx="1222.0" cy="190.0" rx="6.5" ry="8.5" fill="#0000b2" filter="url(#b2)"/>
<ellipse cx="1254.0" cy="192.0" rx="5.5" ry="8.5" fill="#00dbff" filter="url(#b2)"/>
<ellipse cx="1305.0" cy="187.0" rx="12.0" ry="14.0" fill="#0075ff" filter="url(#b3)"/>
<ellipse cx="1306.0" cy="190.0" rx="5.5" ry="5.5" fill="#0000e6" filter="url(#b2)"/>
<ellipse cx="1279.0" cy="203.0" rx="6.0" ry="8.0" fill="#ff8a00" filter="url(#b3)"/>
<ellipse cx="1172.0" cy="325.0" rx="52.0" ry="17.0" fill="#ffff00" filter="url(#b4)"/>
<ellipse cx="1322.0" cy="344.0" rx="72.0" ry="22.0" fill="#ffff00" filter="url(#b4)"/>
<ellipse cx="1250.0" cy="368.0" rx="46.0" ry="40.0" fill="#ffff00" filter="url(#b4)"/>
<ellipse cx="1172.0" cy="324.0" rx="36.0" ry="9.0" fill="#80ff80" filter="url(#b4)"/>
<ellipse cx="1191.0" cy="324.0" rx="10.0" ry="9.0" fill="#00faff" filter="url(#b3)"/>
<ellipse cx="1215.0" cy="340.0" rx="16.0" ry="10.0" fill="#61ff9e" filter="url(#b4)" transform="rotate(35 1215.0 340.0)"/>
<ellipse cx="1330.0" cy="344.0" rx="52.0" ry="15.0" fill="#75ff8a" filter="url(#b4)"/>
<ellipse cx="1304.0" cy="342.0" rx="12.0" ry="12.0" fill="#00faff" filter="url(#b3)"/>
<ellipse cx="1304.0" cy="342.0" rx="6.0" ry="7.0" fill="#0075ff" filter="url(#b2)"/>
<ellipse cx="1250.0" cy="377.0" rx="28.0" ry="24.0" fill="#4dffb2" filter="url(#b4)"/>
<ellipse cx="1252.0" cy="372.0" rx="16.0" ry="12.0" fill="#1affe5" filter="url(#b3)"/>
<ellipse cx="1212.0" cy="392.0" rx="10.0" ry="20.0" fill="#d1ff2e" filter="url(#b4)"/>
<ellipse cx="1259.0" cy="330.0" rx="7.0" ry="14.0" fill="#00bdff" filter="url(#b3)"/>
<ellipse cx="1252.0" cy="351.0" rx="22.0" ry="9.0" fill="#0075ff" filter="url(#b3)"/>
<ellipse cx="1247.0" cy="351.0" rx="13.0" ry="7.0" fill="#0000d1" filter="url(#b2)"/>
<ellipse cx="1166.0" cy="376.0" rx="30.0" ry="18.0" fill="#ff2e00" filter="url(#b4)"/>
<ellipse cx="1174.0" cy="377.0" rx="16.0" ry="10.0" fill="#e50000" filter="url(#b3)"/>
<ellipse cx="1150.0" cy="404.0" rx="30.0" ry="5.0" fill="#ffb300" filter="url(#b3)"/>
<ellipse cx="1134.0" cy="402.0" rx="6.0" ry="5.0" fill="#faff05" filter="url(#b2)"/>
<ellipse cx="1335.0" cy="385.0" rx="50.0" ry="9.0" fill="#ff6100" filter="url(#b4)"/>
<ellipse cx="1378.0" cy="383.0" rx="6.0" ry="9.0" fill="#ff2400" filter="url(#b3)"/>
<ellipse cx="1335.0" cy="400.0" rx="50.0" ry="4.0" fill="#ffbd00" filter="url(#b2)"/>
</g>
</g>
<clipPath id="cph4"><rect x="1417.3" y="163.4" width="261.2" height="245.6"/></clipPath>
<g clip-path="url(#cph4)">
<g filter="url(#gb3)">
<rect x="1397.3" y="143.4" width="301.2" height="285.6" fill="#ffa300"/>
<ellipse cx="1450.0" cy="300.0" rx="36.0" ry="130.0" fill="#ffcc00" filter="url(#b6)"/>
<ellipse cx="1428.0" cy="270.0" rx="6.0" ry="90.0" fill="#ffff00" filter="url(#b3)"/>
<ellipse cx="1428.0" cy="385.0" rx="8.0" ry="24.0" fill="#ffb300" filter="url(#b3)"/>
<ellipse cx="1455.0" cy="180.0" rx="26.0" ry="12.0" fill="#ff8500" filter="url(#b4)"/>
<ellipse cx="1461.0" cy="241.0" rx="13.0" ry="13.0" fill="#fff500" filter="url(#b3)"/>
<ellipse cx="1453.0" cy="332.0" rx="10.0" ry="10.0" fill="#ffa300" filter="url(#b3)"/>
<ellipse cx="1481.0" cy="358.0" rx="11.0" ry="36.0" fill="#fff500" filter="url(#b4)" transform="rotate(-8 1481.0 358.0)"/>
<ellipse cx="1463.0" cy="370.0" rx="15.0" ry="10.0" fill="#fff000" filter="url(#b4)"/>
<ellipse cx="1446.0" cy="396.0" rx="26.0" ry="12.0" fill="#ff9900" filter="url(#b4)"/>
<ellipse cx="1537.0" cy="304.0" rx="38.0" ry="19.0" fill="#ff7000" filter="url(#b6)"/>
<ellipse cx="1550.0" cy="380.0" rx="24.0" ry="28.0" fill="#ff8500" filter="url(#b6)"/>
<ellipse cx="1552.0" cy="276.0" rx="7.5" ry="7.5" fill="#fff000" filter="url(#b3)"/>
<ellipse cx="1568.4" cy="339.6" rx="9.0" ry="9.5" fill="#dbff24" filter="url(#b3)"/>
<ellipse cx="1602.0" cy="335.0" rx="12.0" ry="6.5" fill="#e5ff1a" filter="url(#b3)"/>
<ellipse cx="1640.0" cy="334.0" rx="30.0" ry="7.0" fill="#ffeb00" filter="url(#b4)"/>
<ellipse cx="1630.4" cy="294.0" rx="13.0" ry="12.0" fill="#fff500" filter="url(#b3)"/>
<ellipse cx="1637.0" cy="275.0" rx="5.0" ry="14.0" fill="#ffeb00" filter="url(#b3)"/>
<ellipse cx="1640.0" cy="387.0" rx="30.0" ry="16.0" fill="#ffe000" filter="url(#b4)"/>
<ellipse cx="1652.0" cy="230.0" rx="22.0" ry="60.0" fill="#ff9900" filter="url(#b6)"/>
<ellipse cx="1651.0" cy="210.0" rx="12.0" ry="14.0" fill="#ff8000" filter="url(#b4)"/>
<ellipse cx="1674.6" cy="359.0" rx="6.0" ry="12.0" fill="#ff0f00" filter="url(#b3)"/>
<ellipse cx="1552.0" cy="242.0" rx="70.0" ry="24.0" fill="#ff4c00" filter="url(#b4)"/>
<ellipse cx="1565.0" cy="236.0" rx="12.0" ry="14.0" fill="#ff8000" filter="url(#b3)"/>
<ellipse cx="1500.0" cy="240.0" rx="15.0" ry="22.0" fill="#e50000" filter="url(#b3)"/>
<ellipse cx="1499.0" cy="238.0" rx="8.5" ry="14.0" fill="#800000" filter="url(#b3)"/>
<ellipse cx="1545.0" cy="241.0" rx="11.0" ry="18.0" fill="#f00000" filter="url(#b3)"/>
<ellipse cx="1545.0" cy="241.0" rx="6.0" ry="11.0" fill="#b30000" filter="url(#b2)"/>
<ellipse cx="1604.0" cy="245.0" rx="17.0" ry="25.0" fill="#e50000" filter="url(#b3)"/>
<ellipse cx="1604.0" cy="242.0" rx="10.0" ry="16.0" fill="#8a0000" filter="url(#b3)"/>
<ellipse cx="1590.0" cy="275.0" rx="15.0" ry="13.0" fill="#ff0000" filter="url(#b3)"/>
<ellipse cx="1577.0" cy="301.0" rx="14.0" ry="19.0" fill="#ff0500" filter="url(#b3)" transform="rotate(15 1577.0 301.0)"/>
<ellipse cx="1575.0" cy="301.0" rx="7.0" ry="10.0" fill="#db0000" filter="url(#b2)"/>
<ellipse cx="1539.0" cy="331.0" rx="16.0" ry="7.5" fill="#ff1a00" filter="url(#b3)"/>
<ellipse cx="1541.0" cy="330.5" rx="6.0" ry="4.0" fill="#db0000" filter="url(#b2)"/>
<ellipse cx="1599.0" cy="368.0" rx="8.5" ry="22.0" fill="#ff0f00" filter="url(#b3)" transform="rotate(36 1599.0 368.0)"/>
<ellipse cx="1595.0" cy="374.0" rx="5.0" ry="10.0" fill="#e50000" filter="url(#b2)" transform="rotate(36 1595.0 374.0)"/>
<ellipse cx="1517.0" cy="373.5" rx="7.5" ry="13.0" fill="#ff4200" filter="url(#b3)"/>
<ellipse cx="1523.0" cy="397.0" rx="11.0" ry="2.5" fill="#ff4c00" filter="url(#b2)"/>
<ellipse cx="1560.0" cy="195.0" rx="76.0" ry="30.0" fill="#fffa00" filter="url(#b4)"/>
<ellipse cx="1522.0" cy="222.0" rx="16.0" ry="10.0" fill="#faff05" filter="url(#b3)"/>
<ellipse cx="1557.0" cy="193.0" rx="66.0" ry="22.0" fill="#80ff80" filter="url(#b4)"/>
<ellipse cx="1522.0" cy="214.0" rx="14.0" ry="12.0" fill="#80ff80" filter="url(#b3)"/>
<ellipse cx="1515.0" cy="198.0" rx="22.0" ry="18.0" fill="#1affe5" filter="url(#b3)"/>
<ellipse cx="1598.0" cy="190.0" rx="21.0" ry="15.0" fill="#24ffdb" filter="url(#b3)"/>
<ellipse cx="1515.3" cy="199.0" rx="13.0" ry="11.0" fill="#004dff" filter="url(#b3)"/>
<ellipse cx="1515.0" cy="199.5" rx="7.5" ry="6.0" fill="#0000a8" filter="url(#b2)"/>
<ellipse cx="1593.5" cy="187.5" rx="8.0" ry="7.0" fill="#00bdff" filter="url(#b2)"/>
<ellipse cx="1603.0" cy="197.0" rx="7.0" ry="5.0" fill="#00f0ff" filter="url(#b2)"/>
</g>
</g>
<clipPath id="cph5"><rect x="406.4" y="523.5" width="253.2" height="247.1"/></clipPath>
<g clip-path="url(#cph5)">
<rect x="386.4" y="503.5" width="293.2" height="287.1" fill="#03039a"/>
<ellipse cx="533.6" cy="647.6" rx="99.4" ry="99.4" fill="#000086" filter="url(#b12)" opacity="0.95"/>
<ellipse cx="533.6" cy="647.6" rx="75.3" ry="75.3" fill="#000084" filter="url(#b8)" opacity="0.8"/>
<rect x="406" y="523" width="254" height="248" filter="url(#spk5)" opacity="0.3"/>
<ellipse cx="423.6" cy="534.6" rx="1.5" ry="1.2" fill="#2a48e0" filter="url(#b1)" opacity="0.75"/>
<ellipse cx="497.4" cy="534.6" rx="1.8" ry="1.5" fill="#2a48e0" filter="url(#b1)" transform="rotate(37 497.4 534.6)" opacity="0.75"/>
<ellipse cx="530.6" cy="552.7" rx="2.1" ry="1.2" fill="#2a48e0" filter="url(#b1)" transform="rotate(74 530.6 552.7)" opacity="0.75"/>
<ellipse cx="542.6" cy="545.1" rx="1.5" ry="1.5" fill="#2a48e0" filter="url(#b1)" transform="rotate(111 542.6 545.1)" opacity="0.75"/>
<ellipse cx="578.8" cy="533.1" rx="1.8" ry="1.2" fill="#2a48e0" filter="url(#b1)" transform="rotate(148 578.8 533.1)" opacity="0.75"/>
<ellipse cx="605.9" cy="566.2" rx="2.1" ry="1.5" fill="#2a48e0" filter="url(#b1)" transform="rotate(5 605.9 566.2)" opacity="0.75"/>
<ellipse cx="545.7" cy="566.2" rx="1.5" ry="1.2" fill="#2a48e0" filter="url(#b1)" transform="rotate(42 545.7 566.2)" opacity="0.75"/>
<ellipse cx="615.0" cy="546.7" rx="1.8" ry="1.5" fill="#2a48e0" filter="url(#b1)" transform="rotate(79 615.0 546.7)" opacity="0.75"/>
<ellipse cx="461.3" cy="561.7" rx="2.1" ry="1.2" fill="#2a48e0" filter="url(#b1)" transform="rotate(116 461.3 561.7)" opacity="0.75"/>
<ellipse cx="488.4" cy="578.3" rx="1.5" ry="1.5" fill="#2a48e0" filter="url(#b1)" transform="rotate(153 488.4 578.3)" opacity="0.75"/>
<ellipse cx="479.4" cy="599.4" rx="1.8" ry="1.2" fill="#2a48e0" filter="url(#b1)" transform="rotate(10 479.4 599.4)" opacity="0.75"/>
<ellipse cx="452.2" cy="620.5" rx="2.1" ry="1.5" fill="#2a48e0" filter="url(#b1)" transform="rotate(47 452.2 620.5)" opacity="0.75"/>
<ellipse cx="458.3" cy="628.0" rx="1.5" ry="1.2" fill="#2a48e0" filter="url(#b1)" transform="rotate(84 458.3 628.0)" opacity="0.75"/>
<ellipse cx="479.4" cy="647.6" rx="1.8" ry="1.5" fill="#2a48e0" filter="url(#b1)" transform="rotate(121 479.4 647.6)" opacity="0.75"/>
<ellipse cx="497.4" cy="635.5" rx="2.1" ry="1.2" fill="#2a48e0" filter="url(#b1)" transform="rotate(158 497.4 635.5)" opacity="0.75"/>
<ellipse cx="497.4" cy="650.6" rx="1.5" ry="1.5" fill="#2a48e0" filter="url(#b1)" transform="rotate(15 497.4 650.6)" opacity="0.75"/>
<ellipse cx="506.5" cy="641.6" rx="1.8" ry="1.2" fill="#2a48e0" filter="url(#b1)" transform="rotate(52 506.5 641.6)" opacity="0.75"/>
<ellipse cx="455.3" cy="664.2" rx="2.1" ry="1.5" fill="#2a48e0" filter="url(#b1)" transform="rotate(89 455.3 664.2)" opacity="0.75"/>
<ellipse cx="485.4" cy="656.6" rx="1.5" ry="1.2" fill="#2a48e0" filter="url(#b1)" transform="rotate(126 485.4 656.6)" opacity="0.75"/>
<ellipse cx="446.2" cy="649.1" rx="1.8" ry="1.5" fill="#2a48e0" filter="url(#b1)" transform="rotate(163 446.2 649.1)" opacity="0.75"/>
<ellipse cx="485.4" cy="707.9" rx="2.1" ry="1.2" fill="#2a48e0" filter="url(#b1)" transform="rotate(20 485.4 707.9)" opacity="0.75"/>
<ellipse cx="488.4" cy="719.9" rx="1.5" ry="1.5" fill="#2a48e0" filter="url(#b1)" transform="rotate(57 488.4 719.9)" opacity="0.75"/>
<ellipse cx="437.2" cy="712.4" rx="1.8" ry="1.2" fill="#2a48e0" filter="url(#b1)" transform="rotate(94 437.2 712.4)" opacity="0.75"/>
<ellipse cx="443.2" cy="727.5" rx="2.1" ry="1.5" fill="#2a48e0" filter="url(#b1)" transform="rotate(131 443.2 727.5)" opacity="0.75"/>
<ellipse cx="428.1" cy="750.1" rx="1.5" ry="1.2" fill="#2a48e0" filter="url(#b1)" transform="rotate(168 428.1 750.1)" opacity="0.75"/>
<ellipse cx="461.3" cy="756.1" rx="1.8" ry="1.5" fill="#2a48e0" filter="url(#b1)" transform="rotate(25 461.3 756.1)" opacity="0.75"/>
<ellipse cx="447.7" cy="759.1" rx="2.1" ry="1.2" fill="#2a48e0" filter="url(#b1)" transform="rotate(62 447.7 759.1)" opacity="0.75"/>
<ellipse cx="578.8" cy="722.9" rx="1.5" ry="1.5" fill="#2a48e0" filter="url(#b1)" transform="rotate(99 578.8 722.9)" opacity="0.75"/>
<ellipse cx="590.9" cy="736.5" rx="1.8" ry="1.2" fill="#2a48e0" filter="url(#b1)" transform="rotate(136 590.9 736.5)" opacity="0.75"/>
<ellipse cx="578.8" cy="747.0" rx="2.1" ry="1.5" fill="#2a48e0" filter="url(#b1)" transform="rotate(173 578.8 747.0)" opacity="0.75"/>
<ellipse cx="596.9" cy="741.0" rx="1.5" ry="1.2" fill="#2a48e0" filter="url(#b1)" transform="rotate(30 596.9 741.0)" opacity="0.75"/>
<ellipse cx="608.9" cy="716.9" rx="1.8" ry="1.5" fill="#2a48e0" filter="url(#b1)" transform="rotate(67 608.9 716.9)" opacity="0.75"/>
<ellipse cx="566.8" cy="756.1" rx="2.1" ry="1.2" fill="#2a48e0" filter="url(#b1)" transform="rotate(104 566.8 756.1)" opacity="0.75"/>
<ellipse cx="554.7" cy="698.8" rx="1.5" ry="1.5" fill="#2a48e0" filter="url(#b1)" transform="rotate(141 554.7 698.8)" opacity="0.75"/>
<ellipse cx="630.0" cy="668.7" rx="1.8" ry="1.2" fill="#2a48e0" filter="url(#b1)" transform="rotate(178 630.0 668.7)" opacity="0.75"/>
<ellipse cx="645.1" cy="689.8" rx="2.1" ry="1.5" fill="#2a48e0" filter="url(#b1)" transform="rotate(35 645.1 689.8)" opacity="0.75"/>
<ellipse cx="584.8" cy="732.0" rx="1.5" ry="1.2" fill="#2a48e0" filter="url(#b1)" transform="rotate(72 584.8 732.0)" opacity="0.75"/>
<ellipse cx="571.3" cy="741.0" rx="1.8" ry="1.5" fill="#2a48e0" filter="url(#b1)" transform="rotate(109 571.3 741.0)" opacity="0.75"/>
<ellipse cx="486.9" cy="540.6" rx="3.9" ry="1.0" fill="#008aff" filter="url(#b1)" transform="rotate(45 486.9 540.6)" opacity="0.95"/>
<ellipse cx="572.8" cy="539.7" rx="3.3" ry="1.0" fill="#0061ff" filter="url(#b1)" transform="rotate(40 572.8 539.7)" opacity="0.9"/>
<ellipse cx="510.1" cy="699.4" rx="5.1" ry="1.0" fill="#00b2ff" filter="url(#b1)" transform="rotate(42 510.1 699.4)"/>
<ellipse cx="578.8" cy="747.0" rx="3.0" ry="1.0" fill="#0024ff" filter="url(#b1)" transform="rotate(-30 578.8 747.0)" opacity="0.8"/>
</g>
<clipPath id="cph6"><rect x="674.4" y="523.5" width="252.3" height="247.1"/></clipPath>
<g clip-path="url(#cph6)">
<rect x="654.4" y="503.5" width="292.3" height="287.1" fill="#0614c0"/>
<ellipse cx="800.0" cy="650.0" rx="100.0" ry="100.0" fill="#0a1cd2" filter="url(#b12)" opacity="0.7"/>
<ellipse cx="690.0" cy="650.0" rx="14.0" ry="120.0" fill="#0410b0" filter="url(#b8)" opacity="0.6"/>
<ellipse cx="915.0" cy="650.0" rx="14.0" ry="120.0" fill="#0410b0" filter="url(#b8)" opacity="0.6"/>
<ellipse cx="797.0" cy="615.0" rx="9.0" ry="58.0" fill="#0208a4" filter="url(#b4)" opacity="0.85"/>
<ellipse cx="800.0" cy="718.0" rx="44.0" ry="22.0" fill="#0208a0" filter="url(#b4)" opacity="0.55"/>
<ellipse cx="800.0" cy="733.0" rx="34.0" ry="6.0" fill="#00058c" filter="url(#b3)" opacity="0.55"/>
<ellipse cx="842.0" cy="603.0" rx="17.0" ry="38.0" fill="#1030f4" filter="url(#b4)" opacity="0.85"/>
<ellipse cx="763.0" cy="625.0" rx="13.0" ry="45.0" fill="#0612b8" filter="url(#b4)" transform="rotate(6 763.0 625.0)" opacity="0.6"/>
<rect x="674" y="523" width="254" height="248" filter="url(#spk6)" opacity="0.95"/>
<path d="M748.6,573.9 L741.0,600.0 L737.9,629.3 L744.0,658.0 L753.9,682.9" stroke="#00b2ff" stroke-width="2" fill="none" stroke-linecap="round" stroke-linejoin="round" filter="url(#b1)" opacity="0.85"/>
<path d="M745.0,583.0 L747.0,620.0 L750.0,650.0 L755.7,675.7" stroke="#0094ff" stroke-width="1.6" fill="none" stroke-linecap="round" stroke-linejoin="round" filter="url(#b1)" opacity="0.7"/>
<path d="M755.7,556.0 L765.0,553.0 L773.6,554.3 L782.0,560.0 L787.9,568.6 L789.6,586.4" stroke="#008aff" stroke-width="2" fill="none" stroke-linecap="round" stroke-linejoin="round" filter="url(#b1)" opacity="0.75"/>
<path d="M757.0,568.0 L761.0,572.0" stroke="#b3ff4c" stroke-width="2.4" fill="none" stroke-linecap="round" stroke-linejoin="round" filter="url(#b1)" opacity="0.95"/>
<path d="M789.0,590.0 L790.0,630.0 L787.0,670.0" stroke="#004dff" stroke-width="1.6" fill="none" stroke-linecap="round" stroke-linejoin="round" filter="url(#b1)" opacity="0.55"/>
<path d="M768.0,575.0 L772.0,620.0 L776.0,668.0" stroke="#004dff" stroke-width="1.4" fill="none" stroke-linecap="round" stroke-linejoin="round" filter="url(#b1)" opacity="0.5"/>
<path d="M779.0,580.0 L781.0,625.0 L783.0,668.0" stroke="#0042ff" stroke-width="1.3" fill="none" stroke-linecap="round" stroke-linejoin="round" filter="url(#b1)" opacity="0.45"/>
<path d="M809.3,561.4 L814.0,556.0 L820.0,554.3 L832.0,553.0 L845.0,554.3" stroke="#009eff" stroke-width="2.2" fill="none" stroke-linecap="round" stroke-linejoin="round" filter="url(#b1)" opacity="0.8"/>
<path d="M814.6,563.2 L817.0,574.0 L820.0,586.4" stroke="#0094ff" stroke-width="2" fill="none" stroke-linecap="round" stroke-linejoin="round" filter="url(#b1)" opacity="0.75"/>
<path d="M845.0,555.0 L856.0,566.0 L861.0,590.0 L860.0,625.0 L852.0,655.0" stroke="#004dff" stroke-width="1.6" fill="none" stroke-linecap="round" stroke-linejoin="round" filter="url(#b1)" opacity="0.55"/>
<path d="M806.0,590.0 L805.0,630.0 L808.0,662.0" stroke="#004dff" stroke-width="1.6" fill="none" stroke-linecap="round" stroke-linejoin="round" filter="url(#b1)" opacity="0.55"/>
<ellipse cx="796.8" cy="578.0" rx="1.4" ry="1.8" fill="#00b2ff" filter="url(#b1)" opacity="0.8"/>
<ellipse cx="797.6" cy="585.0" rx="1.4" ry="1.8" fill="#00b2ff" filter="url(#b1)" opacity="0.8"/>
<ellipse cx="796.8" cy="592.0" rx="1.4" ry="1.8" fill="#00b2ff" filter="url(#b1)" opacity="0.8"/>
<ellipse cx="797.6" cy="599.0" rx="1.4" ry="1.8" fill="#00b2ff" filter="url(#b1)" opacity="0.8"/>
<ellipse cx="796.8" cy="606.0" rx="1.4" ry="1.8" fill="#00b2ff" filter="url(#b1)" opacity="0.8"/>
<ellipse cx="797.6" cy="613.0" rx="1.4" ry="1.8" fill="#00b2ff" filter="url(#b1)" opacity="0.8"/>
<ellipse cx="796.8" cy="620.0" rx="1.4" ry="1.8" fill="#00b2ff" filter="url(#b1)" opacity="0.8"/>
<ellipse cx="797.6" cy="627.0" rx="1.4" ry="1.8" fill="#00b2ff" filter="url(#b1)" opacity="0.8"/>
<ellipse cx="796.8" cy="634.0" rx="1.4" ry="1.8" fill="#00b2ff" filter="url(#b1)" opacity="0.8"/>
<ellipse cx="797.6" cy="641.0" rx="1.4" ry="1.8" fill="#00b2ff" filter="url(#b1)" opacity="0.8"/>
<ellipse cx="796.8" cy="648.0" rx="1.4" ry="1.8" fill="#00b2ff" filter="url(#b1)" opacity="0.8"/>
<path d="M738.0,655.0 L746.0,672.0 L753.0,683.0" stroke="#00f0ff" stroke-width="2.2" fill="none" stroke-linecap="round" stroke-linejoin="round" filter="url(#b1)" opacity="0.9"/>
<path d="M754.6,685.0 L765.0,684.0 L775.2,680.5" stroke="#6bff94" stroke-width="3.2" fill="none" stroke-linecap="round" stroke-linejoin="round" filter="url(#b1)"/>
<path d="M758.0,685.5 L770.0,682.5" stroke="#e5ff1a" stroke-width="1.6" fill="none" stroke-linecap="round" stroke-linejoin="round" filter="url(#b1)" opacity="0.9"/>
<path d="M811.1,663.8 L812.5,672.0 L814.9,679.2" stroke="#2effd1" stroke-width="2.4" fill="none" stroke-linecap="round" stroke-linejoin="round" filter="url(#b1)" opacity="0.95"/>
<path d="M814.9,679.2 L824.0,684.5 L832.9,689.5 L840.6,699.8" stroke="#6bff94" stroke-width="3" fill="none" stroke-linecap="round" stroke-linejoin="round" filter="url(#b1)"/>
<path d="M818.0,681.5 L832.0,689.0" stroke="#faff05" stroke-width="1.5" fill="none" stroke-linecap="round" stroke-linejoin="round" filter="url(#b1)" opacity="0.9"/>
<path d="M748.0,700.0 Q752.0,735.0 781.6,746.0 Q800.0,750.0 825.2,744.7 Q846.0,735.0 852.0,702.0" stroke="#004dff" stroke-width="2" fill="none" stroke-linecap="round" filter="url(#b1)" opacity="0.6"/>
<path d="M781.6,746.0 L797.0,748.5 L812.0,747.0" stroke="#00f0ff" stroke-width="3.6" fill="none" stroke-linecap="round" stroke-linejoin="round" filter="url(#b1)"/>
<path d="M812.0,747.0 L825.2,744.7" stroke="#009eff" stroke-width="3" fill="none" stroke-linecap="round" stroke-linejoin="round" filter="url(#b1)" opacity="0.9"/>
<ellipse cx="843.2" cy="731.8" rx="3.5" ry="3.0" fill="#00b2ff" filter="url(#b1)" opacity="0.9"/>
<path d="M772.0,695.0 L785.0,702.0 L797.0,707.0" stroke="#0061ff" stroke-width="2" fill="none" stroke-linecap="round" stroke-linejoin="round" filter="url(#b1)" opacity="0.6"/>
<path d="M760.0,712.0 L775.0,724.0" stroke="#004dff" stroke-width="1.6" fill="none" stroke-linecap="round" stroke-linejoin="round" filter="url(#b1)" opacity="0.5"/>
<path d="M735.0,690.0 L700.0,672.0" stroke="#004dff" stroke-width="1.4" fill="none" stroke-linecap="round" stroke-linejoin="round" filter="url(#b1)" opacity="0.4"/>
<path d="M738.0,705.0 L698.0,700.0" stroke="#004dff" stroke-width="1.4" fill="none" stroke-linecap="round" stroke-linejoin="round" filter="url(#b1)" opacity="0.4"/>
<path d="M742.0,720.0 L705.0,735.0" stroke="#004dff" stroke-width="1.4" fill="none" stroke-linecap="round" stroke-linejoin="round" filter="url(#b1)" opacity="0.4"/>
<path d="M862.0,690.0 L898.0,672.0" stroke="#004dff" stroke-width="1.4" fill="none" stroke-linecap="round" stroke-linejoin="round" filter="url(#b1)" opacity="0.4"/>
<path d="M864.0,706.0 L902.0,700.0" stroke="#004dff" stroke-width="1.4" fill="none" stroke-linecap="round" stroke-linejoin="round" filter="url(#b1)" opacity="0.4"/>
<path d="M860.0,722.0 L896.0,738.0" stroke="#004dff" stroke-width="1.4" fill="none" stroke-linecap="round" stroke-linejoin="round" filter="url(#b1)" opacity="0.4"/>
<path d="M700.0,600.0 L725.0,640.0" stroke="#004dff" stroke-width="1.4" fill="none" stroke-linecap="round" stroke-linejoin="round" filter="url(#b1)" opacity="0.4"/>
<path d="M890.0,600.0 L868.0,640.0" stroke="#004dff" stroke-width="1.4" fill="none" stroke-linecap="round" stroke-linejoin="round" filter="url(#b1)" opacity="0.4"/>
</g>
<clipPath id="cph7"><rect x="1108.6" y="526.2" width="264" height="260.4"/></clipPath>
<g clip-path="url(#cph7)">
<rect x="1088.6" y="506.20000000000005" width="304" height="300.4" fill="#00008b"/>
<rect x="1108" y="557" width="262" height="2" fill="#00009c" opacity="0.5"/>
<ellipse cx="1212.5" cy="672.5" rx="42.4" ry="16.7" fill="#0000a0" filter="url(#b4)" opacity="0.5"/>
<ellipse cx="1197.8" cy="669.7" rx="5.1" ry="5.4" fill="#0ffff0" filter="url(#b1)"/>
<ellipse cx="1197.8" cy="669.7" rx="3.3" ry="3.6" fill="#38ffc7" filter="url(#b1)"/>
<ellipse cx="1206.2" cy="668.2" rx="2.2" ry="4.0" fill="#e50000" filter="url(#b1)"/>
<ellipse cx="1206.4" cy="680.1" rx="2.9" ry="3.1" fill="#0005ff" filter="url(#b1)"/>
<ellipse cx="1215.9" cy="669.1" rx="3.8" ry="4.0" fill="#0000c7" filter="url(#b2)"/>
<ellipse cx="1239.3" cy="662.4" rx="3.3" ry="3.3" fill="#0000b2" filter="url(#b2)"/>
</g>
<clipPath id="cph8"><rect x="1406.4" y="526.3" width="266.3" height="260"/></clipPath>
<g clip-path="url(#cph8)">
<rect x="1386.4" y="506.29999999999995" width="306.3" height="300" fill="#00008c"/>
<rect x="1406" y="557" width="260" height="2" fill="#0000a4" opacity="0.6"/>
<rect x="1654" y="526" width="2" height="262" fill="#0000a4" opacity="0.6"/>
<ellipse cx="1490.5" cy="608.9" rx="21.4" ry="26.5" fill="#0000fa" filter="url(#b4)"/>
<ellipse cx="1538.4" cy="608.9" rx="16.8" ry="23.3" fill="#0000fa" filter="url(#b4)"/>
<ellipse cx="1515.8" cy="610.5" rx="12.9" ry="7.1" fill="#0024ff" filter="url(#b3)"/>
<ellipse cx="1595.0" cy="612.1" rx="20.1" ry="27.2" fill="#0000fa" filter="url(#b4)"/>
<ellipse cx="1585.3" cy="644.5" rx="11.7" ry="16.2" fill="#0005ff" filter="url(#b4)" transform="rotate(30 1585.3 644.5)"/>
<ellipse cx="1572.4" cy="665.5" rx="16.8" ry="27.8" fill="#0005ff" filter="url(#b4)" transform="rotate(22 1572.4 665.5)"/>
<ellipse cx="1491.2" cy="610.5" rx="16.2" ry="22.0" fill="#00f0ff" filter="url(#b3)"/>
<ellipse cx="1490.5" cy="606.3" rx="12.9" ry="16.8" fill="#faff05" filter="url(#b3)"/>
<ellipse cx="1490.8" cy="604.3" rx="9.1" ry="11.7" fill="#ff6100" filter="url(#b2)"/>
<ellipse cx="1489.9" cy="602.4" rx="5.5" ry="7.8" fill="#940000" filter="url(#b2)"/>
<ellipse cx="1497.0" cy="608.2" rx="3.6" ry="3.2" fill="#fa0000" filter="url(#b1)"/>
<ellipse cx="1539.1" cy="611.4" rx="12.9" ry="18.8" fill="#00f0ff" filter="url(#b3)"/>
<ellipse cx="1539.1" cy="608.2" rx="9.1" ry="13.6" fill="#e5ff1a" filter="url(#b3)"/>
<ellipse cx="1538.4" cy="608.9" rx="4.9" ry="6.1" fill="#ff2e00" filter="url(#b2)"/>
<ellipse cx="1595.7" cy="612.7" rx="16.8" ry="23.3" fill="#00f0ff" filter="url(#b3)"/>
<ellipse cx="1595.7" cy="608.9" rx="12.9" ry="16.8" fill="#e5ff1a" filter="url(#b3)"/>
<ellipse cx="1596.7" cy="605.6" rx="9.1" ry="11.0" fill="#ff7500" filter="url(#b2)"/>
<ellipse cx="1595.4" cy="609.5" rx="7.8" ry="4.9" fill="#e50000" filter="url(#b2)"/>
<ellipse cx="1573.4" cy="663.2" rx="12.3" ry="24.0" fill="#00b2ff" filter="url(#b3)" transform="rotate(22 1573.4 663.2)"/>
<ellipse cx="1579.2" cy="653.5" rx="6.5" ry="10.4" fill="#05fffa" filter="url(#b2)" transform="rotate(22 1579.2 653.5)"/>
<ellipse cx="1566.9" cy="672.9" rx="7.1" ry="9.1" fill="#2effd1" filter="url(#b2)"/>
<ellipse cx="1565.9" cy="674.2" rx="3.6" ry="4.5" fill="#bdff42" filter="url(#b2)"/>
<ellipse cx="1525.5" cy="704.3" rx="16.8" ry="3.6" fill="#000fff" filter="url(#b2)"/>
<ellipse cx="1530.3" cy="703.7" rx="5.2" ry="2.6" fill="#2effd1" filter="url(#b2)"/>
<ellipse cx="1529.3" cy="695.0" rx="3.9" ry="2.6" fill="#0000e6" filter="url(#b2)"/>
<ellipse cx="1588.6" cy="746.4" rx="11.0" ry="20.7" fill="#0024ff" filter="url(#b3)" transform="rotate(40 1588.6 746.4)"/>
<ellipse cx="1586.3" cy="750.0" rx="7.1" ry="14.9" fill="#00b2ff" filter="url(#b2)" transform="rotate(40 1586.3 750.0)"/>
<ellipse cx="1581.8" cy="755.2" rx="5.8" ry="4.9" fill="#1affe5" filter="url(#b2)"/>
<ellipse cx="1670.5" cy="733.8" rx="5.2" ry="9.7" fill="#00a8ff" filter="url(#b2)"/>
<ellipse cx="1506.0" cy="741.6" rx="5.8" ry="7.1" fill="#0000db" filter="url(#b2)"/>
<ellipse cx="1514.5" cy="773.9" rx="3.2" ry="3.2" fill="#0000db" filter="url(#b2)"/>
</g>
<rect x="971.5" y="158.8" width="15.5" height="252.2" fill="url(#jet)"/>
<rect x="971.5" y="158.8" width="1.4" height="252.2" fill="#201010" opacity="0.4"/>
<rect x="985.6" y="158.8" width="1.4" height="252.2" fill="#201010" opacity="0.4"/>
<rect x="986.5" y="280.0" width="8" height="3" fill="#62606a" opacity="0.9"/>
<rect x="986.5" y="314.5" width="8" height="3" fill="#62606a" opacity="0.9"/>
<rect x="1721" y="162" width="15" height="249" fill="url(#jet)"/>
<rect x="1721" y="162" width="1.4" height="249" fill="#201010" opacity="0.4"/>
<rect x="1734.6" y="162" width="1.4" height="249" fill="#201010" opacity="0.4"/>
<rect x="1735.5" y="205.5" width="8" height="3" fill="#62606a" opacity="0.9"/>
<rect x="1735.5" y="295.5" width="8" height="3" fill="#62606a" opacity="0.9"/>
<rect x="967" y="523" width="15" height="249" fill="url(#jet)"/>
<rect x="967" y="523" width="1.4" height="249" fill="#201010" opacity="0.4"/>
<rect x="980.6" y="523" width="1.4" height="249" fill="#201010" opacity="0.4"/>
<rect x="981.5" y="699.5" width="8" height="3" fill="#62606a" opacity="0.9"/>
<rect x="981.5" y="769.5" width="8" height="3" fill="#62606a" opacity="0.9"/>
<rect x="1715.3" y="525" width="14.7" height="262.3" fill="url(#jet)"/>
<rect x="1715.3" y="525" width="1.4" height="262.3" fill="#201010" opacity="0.4"/>
<rect x="1728.6" y="525" width="1.4" height="262.3" fill="#201010" opacity="0.4"/>
<rect x="1729.5" y="678.5" width="8" height="3" fill="#62606a" opacity="0.9"/>
<rect x="1729.5" y="785.0" width="8" height="3" fill="#62606a" opacity="0.9"/>

<text class="mono" font-size="38.9" transform="translate(341,408) rotate(-90) scale(1,1.2)" stroke="#fff" stroke-width="1">before activation</text>
<text class="mono" font-size="38.9" transform="translate(339,888.5) rotate(-90) scale(1,1.2)" stroke="#fff" stroke-width="1">after activation</text>

<text class="ser num" font-size="44" x="1039" y="290">0</text>
<text class="ser num" font-size="44" x="1018" y="340" letter-spacing="-2">−10</text>
<text class="ser num" font-size="44" x="1789" y="216">0</text>
<text class="ser num" font-size="44" x="1777.5" y="315" letter-spacing="-1.5">−5</text>
<text class="ser num" font-size="44" x="1009.5" y="720" letter-spacing="-2">−10</text>
<text class="ser num" font-size="44" x="1032" y="768">0</text>
<text class="ser num" font-size="44" x="1775" y="693" letter-spacing="-1">−1</text>
<text class="ser num" font-size="44" x="1786.5" y="791.5">0</text>

<text class="ser chl" font-size="46" x="412.5" y="471">48<tspan class="it" font-size="25" dy="-20.5" dx="1">th</tspan><tspan class="it" dy="20.5" dx="4">Channel</tspan></text>
<text class="ser chl" font-size="46" x="689.5" y="471">13<tspan class="it" font-size="25" dy="-20.5" dx="-2">th</tspan><tspan class="it" dy="20.5" dx="4">Channel</tspan></text>
<text class="ser chl" font-size="46" x="1148" y="471">2<tspan class="it" font-size="26" dy="-21" dx="2.5">nd</tspan><tspan class="it" dy="21" dx="7.5" letter-spacing="1.25">Channel</tspan></text>
<text class="ser chl" font-size="46" x="1450" y="473">4<tspan class="it" font-size="25" dy="-20.5" dx="1">nd</tspan><tspan class="it" dy="20.5" dx="8" letter-spacing="0.5">Channel</tspan></text>

<text class="cap" font-size="39.5" stroke="#000" stroke-width="0.5" x="405" y="838" textLength="606" lengthAdjust="spacing">a)activation map of VGG 19-22</text>
<text class="cap" font-size="39.5" stroke="#000" stroke-width="0.5" x="1120.5" y="838" textLength="608.5" lengthAdjust="spacing">b)activation map of VGG 19-54</text>
</svg>
</body></html>
